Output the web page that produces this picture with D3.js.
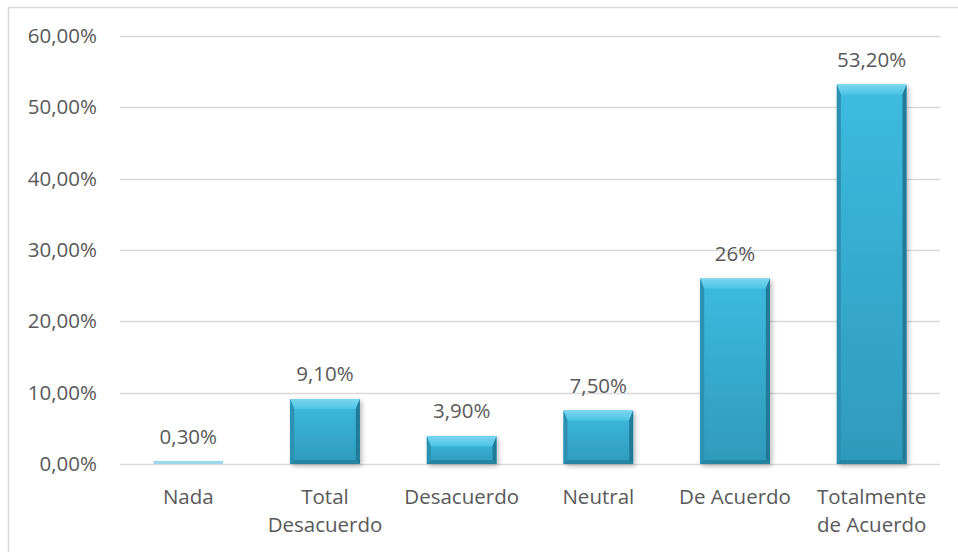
<!DOCTYPE html>
<html lang="es">
<head>
<meta charset="UTF-8">
<title>Grado de acuerdo</title>
<script src="https://d3js.org/d3.v7.min.js"></script>
<style>
  body { margin: 0; background: #fff; }
  text { font-family: "Open Sans", sans-serif; fill: #595959; }
</style>
</head>
<body>
<script>
  // datos
  const categories = ["Nada", "Total|Desacuerdo", "Desacuerdo", "Neutral", "De Acuerdo", "Totalmente|de Acuerdo"];
  const values = [0.3, 9.1, 3.9, 7.5, 26, 53.2];
  const valueLabels = ["0,30%", "9,10%", "3,90%", "7,50%", "26%", "53,20%"];
  const yTicks = [0, 10, 20, 30, 40, 50, 60];

  const width = 958, height = 552;
  const fs = "20.5px";
  const svg = d3.select("body").append("svg").attr("width", width).attr("height", height);

  const defs = svg.append("defs");
  const grad = defs.append("linearGradient").attr("id", "barGrad")
    .attr("x1", 0).attr("y1", 0).attr("x2", 0).attr("y2", 1);
  grad.append("stop").attr("offset", "0%").attr("stop-color", "#3dbbdf");
  grad.append("stop").attr("offset", "100%").attr("stop-color", "#2f9abb");
  const topGrad = defs.append("linearGradient").attr("id", "topGrad")
    .attr("x1", 0).attr("y1", 0).attr("x2", 0).attr("y2", 1);
  topGrad.append("stop").attr("offset", "0%").attr("stop-color", "#7ad6ef");
  topGrad.append("stop").attr("offset", "100%").attr("stop-color", "#4cc4e6");
  const sh = defs.append("filter").attr("id", "shadow")
    .attr("x", "-20%").attr("y", "-20%").attr("width", "150%").attr("height", "150%");
  sh.append("feDropShadow").attr("dx", 2).attr("dy", 2).attr("stdDeviation", 2.5)
    .attr("flood-color", "#000").attr("flood-opacity", 0.28);

  // marco exterior
  svg.append("rect").attr("x", 8.5).attr("y", 7.5).attr("width", 960).attr("height", 560)
    .attr("fill", "none").attr("stroke", "#d9d9d9").attr("stroke-width", 1.5);

  const x = d3.scaleBand().domain(categories).range([120, 940]).paddingInner(0.49).paddingOuter(0.245);
  const y = d3.scaleLinear().domain([0, 60]).range([464, 36]);

  // lineas de cuadricula
  svg.append("g").selectAll("line").data(yTicks).join("line")
    .attr("x1", 120).attr("x2", 940)
    .attr("y1", d => Math.round(y(d)) + 0.5).attr("y2", d => Math.round(y(d)) + 0.5)
    .attr("stroke", "#d9d9d9").attr("stroke-width", 1.3);

  const yAxis = d3.axisLeft(y).tickValues(yTicks).tickSize(0).tickPadding(0)
    .tickFormat(d => d3.format(".2f")(d).replace(".", ",") + "%");
  svg.append("g").attr("transform", "translate(97,0)").call(yAxis)
    .call(g => g.select(".domain").remove())
    .call(g => g.selectAll("text").attr("font-size", fs).attr("fill", "#595959")
      .style("font-family", "'Open Sans', sans-serif"));

  // barras con bisel
  const bars = svg.append("g").selectAll("g").data(values).join("g");
  bars.each(function (d, i) {
    const g = d3.select(this);
    const x0 = x(categories[i]), w = x.bandwidth();
    const y0 = y(d), y1 = y(0), h = y1 - y0;
    if (h < 4) {
      g.append("rect").attr("x", x0).attr("y", y0 - 1).attr("width", w).attr("height", h + 1)
        .attr("fill", "#9fd8ea");
      return;
    }
    const bt = Math.min(10, h / 2), bs = Math.min(4, w / 4), bb = Math.min(4, h / 4);
    g.append("rect").attr("x", x0).attr("y", y0).attr("width", w).attr("height", h)
      .attr("fill", "url(#barGrad)").attr("filter", "url(#shadow)");
    // bisel superior
    g.append("polygon").attr("points", [[x0, y0], [x0 + w, y0], [x0 + w - bs, y0 + bt], [x0 + bs, y0 + bt]].join(" "))
      .attr("fill", "url(#topGrad)");
    // bisel izquierdo
    g.append("polygon").attr("points", [[x0, y0], [x0 + bs, y0 + bt], [x0 + bs, y1 - bb], [x0, y1]].join(" "))
      .attr("fill", "#2b90b1");
    // bisel derecho
    g.append("polygon").attr("points", [[x0 + w, y0], [x0 + w - bs, y0 + bt], [x0 + w - bs, y1 - bb], [x0 + w, y1]].join(" "))
      .attr("fill", "#217a98");
    // bisel inferior
    g.append("polygon").attr("points", [[x0, y1], [x0 + bs, y1 - bb], [x0 + w - bs, y1 - bb], [x0 + w, y1]].join(" "))
      .attr("fill", "#2585a3");
  });

  // etiquetas de valor
  svg.append("g").selectAll("text").data(values).join("text")
    .attr("x", (d, i) => x(categories[i]) + x.bandwidth() / 2)
    .attr("y", d => y(d) - 18)
    .attr("text-anchor", "middle").attr("font-size", fs)
    .text((d, i) => valueLabels[i]);

  // etiquetas de categoria
  const cat = svg.append("g").selectAll("text").data(categories).join("text")
    .attr("x", d => x(d) + x.bandwidth() / 2)
    .attr("y", 504).attr("text-anchor", "middle").attr("font-size", fs);
  cat.each(function (d) {
    d3.select(this).selectAll("tspan").data(d.split("|")).join("tspan")
      .attr("x", x(d) + x.bandwidth() / 2).attr("dy", (t, j) => j === 0 ? 0 : 28).text(t => t);
  });
</script>
</body>
</html>
